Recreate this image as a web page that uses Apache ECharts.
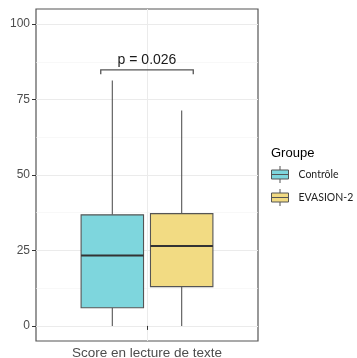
<!DOCTYPE html>
<html>
<head>
<meta charset="utf-8">
<script src="https://cdn.jsdelivr.net/npm/echarts@6/dist/echarts.min.js"></script>
<style>
  html, body { margin: 0; padding: 0; background: #fff; }
  #chart { width: 357px; height: 358px; }
</style>
</head>
<body>
<div id="chart"></div>
<script>
// Reading score by group: five-number summaries [min, Q1, median, Q3, max]
const categories = ['Score en lecture de texte'];
const groups = ['Contrôle', 'EVASION-2'];
const controleStats = [0, 6, 23.3, 36.8, 81.3];
const evasionStats = [0, 13, 26.5, 37.2, 71.4];
const groupColors = ['#7ED6DD', '#F2DB83'];
const yTicks = [0, 25, 50, 75, 100];
const yMinorTicks = [12.5, 37.5, 62.5, 87.5];

// Significance bracket between the two boxes
const pLabel = 'p = 0.026';
const bracketX = [0.75, 1.25];
const bracketY = [83.4, 84.8];

const FONT = '"Liberation Sans", Arial, sans-serif';
const EDGE = '#555555';
const DODGE = 0.1875;
const BOX_W = 0.3375;

function boxRenderer(offset, fill) {
  return function (params, api) {
    const x = api.value(0) + offset;
    const pMin = api.coord([x, api.value(1)]);
    const pQ1 = api.coord([x, api.value(2)]);
    const pMed = api.coord([x, api.value(3)]);
    const pQ3 = api.coord([x, api.value(4)]);
    const pMax = api.coord([x, api.value(5)]);
    const left = api.coord([x - BOX_W / 2, 0])[0];
    const right = api.coord([x + BOX_W / 2, 0])[0];
    const lineStyle = { stroke: EDGE, lineWidth: 1.1 };
    return {
      type: 'group',
      children: [
        { type: 'line', shape: { x1: pMax[0], y1: pMax[1], x2: pQ3[0], y2: pQ3[1] }, style: lineStyle },
        { type: 'line', shape: { x1: pMin[0], y1: pMin[1], x2: pQ1[0], y2: pQ1[1] }, style: lineStyle },
        { type: 'rect', shape: { x: left, y: pQ3[1], width: right - left, height: pQ1[1] - pQ3[1] },
          style: { fill: fill, stroke: EDGE, lineWidth: 1.1 } },
        { type: 'line', shape: { x1: left, y1: pMed[1], x2: right, y2: pMed[1] },
          style: { stroke: '#333333', lineWidth: 2 } }
      ]
    };
  };
}

function bracketRenderer(params, api) {
  const a = api.coord([api.value(0), api.value(2)]);
  const b = api.coord([api.value(1), api.value(2)]);
  const aTip = api.coord([api.value(0), api.value(3)]);
  const bTip = api.coord([api.value(1), api.value(3)]);
  const mid = api.coord([(api.value(0) + api.value(1)) / 2, api.value(2)]);
  const ls = { stroke: EDGE, lineWidth: 1.3, fill: null };
  return {
    type: 'group',
    children: [
      { type: 'polyline', shape: { points: [aTip, a, b, bTip] }, style: ls },
      { type: 'text', x: mid[0], y: mid[1] - 3,
        style: { text: pLabel, font: '14px ' + FONT, fill: '#1a1a1a', align: 'center', verticalAlign: 'bottom' } }
    ]
  };
}

const legendIcon = 'path://M0,4 L17,4 L17,13 L0,13 Z M0,8.5 L17,8.5 M8.5,0 L8.5,4 M8.5,13 L8.5,17';

const chart = echarts.init(document.getElementById('chart'), null, { renderer: 'canvas' });
chart.setOption({
  animation: false,
  backgroundColor: '#ffffff',
  title: {
    text: 'Groupe', left: 271, top: 147, padding: 0,
    textStyle: { fontFamily: FONT, fontSize: 13, fontWeight: 'normal', color: '#000' }
  },
  legend: {
    orient: 'vertical', left: 271, top: 165.5, padding: 0,
    itemWidth: 17, itemHeight: 17, itemGap: 5,
    icon: legendIcon,
    textStyle: { fontFamily: 'Lato, "Open Sans", sans-serif', fontSize: 10.5, color: '#222', padding: [0, 0, 0, 5] },
    data: groups.map((g, i) => ({
      name: g,
      itemStyle: { color: groupColors[i], borderColor: EDGE, borderWidth: 1 }
    }))
  },
  grid: {
    left: 36, right: 99, top: 9, bottom: 17,
    outerBoundsMode: 'none',
    show: true, borderColor: EDGE, borderWidth: 1.2, backgroundColor: 'transparent'
  },
  xAxis: {
    type: 'value', min: 0.4, max: 1.6,
    axisLine: { show: false },
    axisTick: { show: true, length: 4, lineStyle: { color: '#333' }, customValues: [1] },
    axisLabel: {
      customValues: [1], margin: 5,
      formatter: (v) => categories[Math.round(v) - 1] || '',
      fontFamily: FONT, fontSize: 13.5, color: '#4D4D4D'
    },
    splitLine: { show: true, lineStyle: { color: '#EBEBEB', width: 1 } }
  },
  yAxis: [
    {
      type: 'value', min: -5, max: 105,
      axisLine: { show: false },
      axisTick: { show: true, length: 4, lineStyle: { color: '#333' }, customValues: yTicks },
      axisLabel: { customValues: yTicks, margin: 6, fontFamily: FONT, fontSize: 12, color: '#4D4D4D' },
      splitLine: { show: true, lineStyle: { color: '#EBEBEB', width: 1 } }
    },
    {
      type: 'value', min: -5, max: 105, position: 'left',
      axisLine: { show: false },
      axisTick: { show: false, customValues: yMinorTicks },
      axisLabel: { show: false, customValues: yMinorTicks },
      splitLine: { show: true, lineStyle: { color: '#F3F3F3', width: 0.6 } }
    }
  ],
  series: [
    {
      name: groups[0], type: 'custom', yAxisIndex: 0,
      renderItem: boxRenderer(-DODGE, groupColors[0]),
      itemStyle: { color: groupColors[0] },
      encode: { x: 0, y: [1, 2, 3, 4, 5] },
      data: [[1].concat(controleStats)]
    },
    {
      name: groups[1], type: 'custom', yAxisIndex: 0,
      renderItem: boxRenderer(DODGE, groupColors[1]),
      itemStyle: { color: groupColors[1] },
      encode: { x: 0, y: [1, 2, 3, 4, 5] },
      data: [[1].concat(evasionStats)]
    },
    {
      name: 'bracket', type: 'custom', yAxisIndex: 0,
      renderItem: bracketRenderer,
      encode: { x: [0, 1], y: [2, 3] },
      data: [[bracketX[0], bracketX[1], bracketY[1], bracketY[0]]]
    }
  ]
});
</script>
</body>
</html>
